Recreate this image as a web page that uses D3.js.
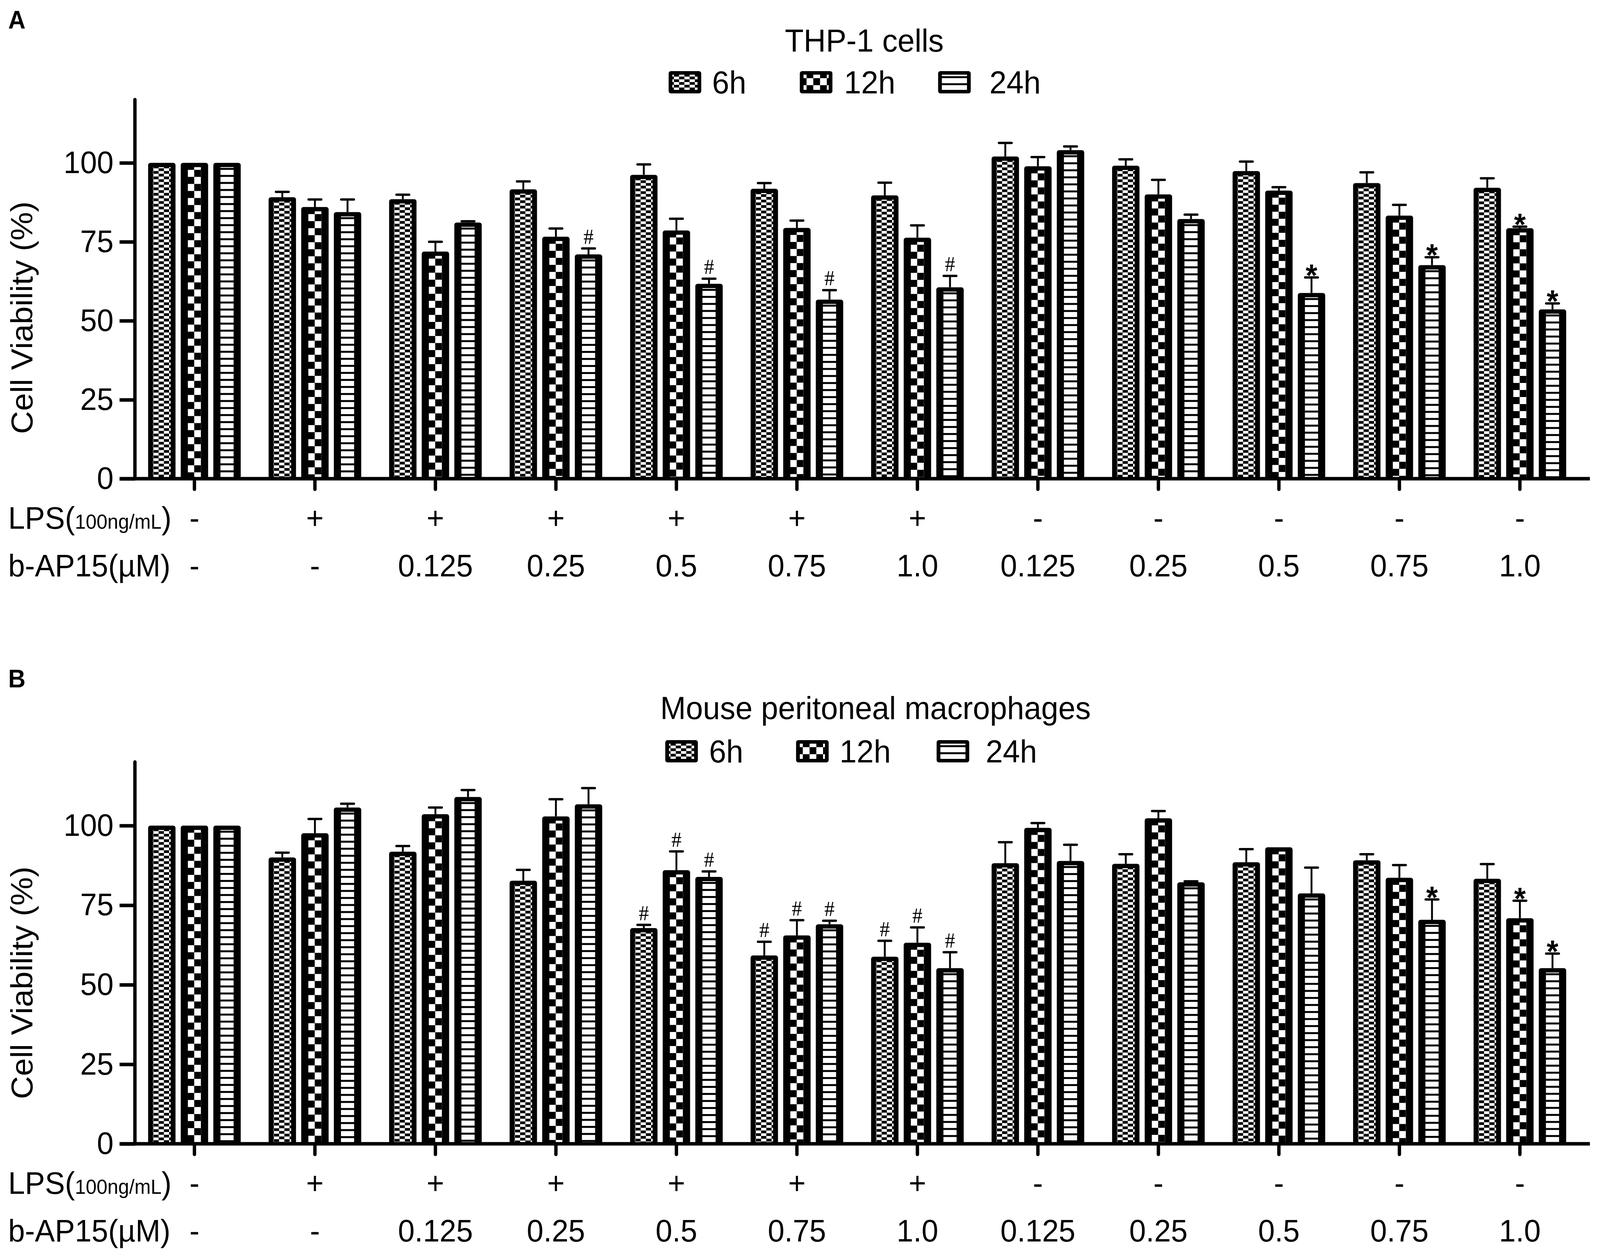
<!DOCTYPE html>
<html>
<head>
<meta charset="utf-8">
<script src="https://cdn.jsdelivr.net/npm/d3@7"></script>
<style>
  html, body { margin: 0; padding: 0; background: #fff; overflow: hidden; }
  svg { display: block; position: absolute; left: 0; top: 0; width: 100vw; height: 100vh; }
  svg text { font-family: "Liberation Sans", Arial, sans-serif; fill: #000; }
</style>
</head>
<body>
<script>
// ========== Data ==========
// Time points (series).
var seriesNames = ["6h", "12h", "24h"];
// Treatment row labels under each bar group.
var lpsLabels = ["-", "+", "+", "+", "+", "+", "+", "-", "-", "-", "-", "-"];
var apLabels = ["-", "-", "0.125", "0.25", "0.5", "0.75", "1.0", "0.125", "0.25", "0.5", "0.75", "1.0"];
var yTicks = [0, 25, 50, 75, 100];

// Panel A: THP-1 cells, mean viability (%) and upper error.
var thp6h = [100, 89.1, 88.5, 91.6, 96.2, 91.8, 89.7, 102.0, 99.1, 97.4, 93.6, 92.1];
var thp12h = [100, 86.0, 71.9, 76.6, 78.6, 79.4, 76.3, 98.9, 90.0, 91.2, 83.3, 79.3];
var thp24h = [100, 84.4, 81.1, 71.0, 61.7, 56.7, 60.6, 104.0, 82.2, 58.8, 67.6, 53.6];
var thp6hErr = [0, 1.7, 1.4, 2.5, 3.3, 1.8, 4.0, 4.3, 2.0, 3.0, 3.4, 3.0];
var thp12hErr = [0, 2.4, 3.1, 2.6, 3.7, 2.3, 3.9, 2.9, 4.6, 1.1, 3.4, 0.5];
var thp24hErr = [0, 4.0, 0.4, 1.9, 1.6, 3.0, 3.6, 1.2, 1.4, 4.9, 2.5, 1.9];
var thp6hMark = ["", "", "", "", "", "", "", "", "", "", "", ""];
var thp12hMark = ["", "", "", "", "", "", "", "", "", "", "", "*"];
var thp24hMark = ["", "", "", "#", "#", "#", "#", "", "", "*", "*", "*"];

// Panel B: mouse peritoneal macrophages.
var mpm6h = [100, 90.0, 91.8, 82.7, 67.8, 59.2, 58.8, 88.2, 88.0, 88.5, 89.1, 83.3];
var mpm12h = [100, 97.6, 103.6, 102.9, 86.0, 65.5, 63.2, 99.3, 102.3, 93.2, 83.6, 70.9];
var mpm24h = [100, 105.7, 109.0, 106.7, 83.9, 69.0, 55.2, 88.9, 82.2, 78.7, 70.4, 55.2];
var mpm6hErr = [0, 1.5, 1.8, 3.4, 1.0, 4.3, 5.0, 6.6, 3.0, 4.1, 1.9, 4.6];
var mpm12hErr = [0, 4.5, 2.1, 5.4, 5.9, 4.8, 4.8, 1.5, 2.3, 0, 4.0, 5.5];
var mpm24hErr = [0, 1.2, 2.2, 5.1, 1.7, 1.1, 5.0, 5.1, 0.3, 8.1, 6.4, 4.6];
var mpm6hMark = ["", "", "", "", "#", "#", "#", "", "", "", "", ""];
var mpm12hMark = ["", "", "", "", "#", "#", "#", "", "", "", "", "*"];
var mpm24hMark = ["", "", "", "", "#", "#", "#", "", "", "", "*", "*"];
// ==============================================

var W = 4269, H = 3209;
// Drawn in a fixed 4269x3209 coordinate system, scaled to whatever the viewport is.
var svg = d3.select("body").append("svg")
  .attr("viewBox", "0 0 " + W + " " + H)
  .attr("preserveAspectRatio", "none");
svg.append("rect").attr("width", W).attr("height", H).attr("fill", "#fff");

// Fill patterns for each time point.
var defs = svg.append("defs");
var p6 = defs.append("pattern").attr("id", "pat6h")
  .attr("patternUnits", "userSpaceOnUse").attr("width", 28).attr("height", 14);
p6.append("rect").attr("width", 28).attr("height", 14).attr("fill", "#fff");
p6.append("rect").attr("x", 0).attr("y", 0).attr("width", 14).attr("height", 7).attr("fill", "#000");
p6.append("rect").attr("x", 14).attr("y", 7).attr("width", 14).attr("height", 7).attr("fill", "#000");

var p12 = defs.append("pattern").attr("id", "pat12h")
  .attr("patternUnits", "userSpaceOnUse").attr("width", 36).attr("height", 36);
p12.append("rect").attr("width", 36).attr("height", 36).attr("fill", "#000");
p12.append("rect").attr("x", 0).attr("y", 0).attr("width", 18).attr("height", 18).attr("fill", "#fff");
p12.append("rect").attr("x", 18).attr("y", 18).attr("width", 18).attr("height", 18).attr("fill", "#fff");

var p24 = defs.append("pattern").attr("id", "pat24h")
  .attr("patternUnits", "userSpaceOnUse").attr("width", 20).attr("height", 18);
p24.append("rect").attr("width", 20).attr("height", 18).attr("fill", "#fff");
p24.append("rect").attr("x", 0).attr("y", 13).attr("width", 20).attr("height", 5).attr("fill", "#000");

// Black border thickness on the sides of each bar kind.
var insets = { "6h": 13, "12h": 19, "24h": 19 };

/* Draw one patterned bar: black rounded body with a patterned core. */
function drawBar(g, x, yTop, yBase, w, key)
{
  var h = yBase - yTop;
  var topInset = 11;
  var bar = g.append("g").attr("transform", "translate(" + x + "," + yTop + ")");
  bar.append("rect")
    .attr("width", w)
    .attr("height", h)
    .attr("rx", 6)
    .attr("fill", "#000");
  var inset = insets[key];
  bar.append("rect")
    .attr("x", inset)
    .attr("y", topInset)
    .attr("width", w - 2 * inset)
    .attr("height", Math.max(0, h - topInset))
    .attr("fill", "url(#pat" + key + ")");
}

function drawPanel(p)
{
  var g = svg.append("g");

  var y = d3.scaleLinear().domain([0, 120]).range([p.y0, p.yTop]);
  var x0 = d3.scaleBand().domain(d3.range(lpsLabels.length)).range([358, 4216]);
  var x1 = d3.scaleBand().domain(seriesNames).range([-130.5, 130.5])
    .paddingInner(0.16).paddingOuter(0.08);
  var axisX = 360;

  // Panel letter.
  g.append("text")
    .attr("x", 22).attr("y", p.letterY)
    .attr("font-size", 64).attr("font-weight", "bold")
    .text(p.letter);

  // Title.
  g.append("text")
    .attr("x", p.titleX).attr("y", p.titleY)
    .attr("text-anchor", "middle")
    .attr("font-size", 82)
    .text(p.title);

  // Legend.
  seriesNames.forEach(function(s, i) {
    var sw = g.append("g").attr("transform", "translate(" + p.legendSwatchX[i] + "," + (p.legendY - 28) + ")");
    sw.append("rect").attr("width", 87).attr("height", 57).attr("rx", 6).attr("fill", "#000");
    sw.append("rect").attr("x", 10).attr("y", 9).attr("width", 67).attr("height", 39)
      .attr("fill", "url(#pat" + s + ")");
    g.append("text")
      .attr("x", p.legendTextX[i]).attr("y", p.legendY + 29)
      .attr("font-size", 82)
      .text(s);
  });

  // Bars, error bars and significance marks.
  seriesNames.forEach(function(s, si) {
    var means = p.means[si], errs = p.errs[si], marks = p.marks[si];
    var w = x1.bandwidth();
    means.forEach(function(v, i) {
      var cx = x0(i) + x0.bandwidth() / 2 + x1(s) + w / 2;
      var yTop = y(v);
      var yErr = y(v + errs[i]);
      if (errs[i] > 0)
      {
        g.append("line")
          .attr("x1", cx).attr("x2", cx)
          .attr("y1", yTop).attr("y2", yErr)
          .attr("stroke", "#000").attr("stroke-width", 5);
        g.append("line")
          .attr("x1", cx - 17).attr("x2", cx + 17)
          .attr("y1", yErr).attr("y2", yErr)
          .attr("stroke", "#000").attr("stroke-width", 6)
          .attr("stroke-linecap", "round");
      }
      drawBar(g, cx - w / 2, yTop, y(0), w, s);

      if (marks[i] == "#")
      {
        g.append("text")
          .attr("x", cx).attr("y", yErr - 12)
          .attr("text-anchor", "middle")
          .attr("font-size", 54)
          .style("font-family", "'Liberation Serif', 'Times New Roman', serif")
          .text("#");
      }
      else if (marks[i] == "*")
      {
        g.append("text")
          .attr("x", cx).attr("y", yErr + 22)
          .attr("text-anchor", "middle")
          .attr("font-size", 80)
          .attr("font-weight", "bold")
          .text("*");
      }
    });
  });

  // Y axis.
  var yAxis = g.append("g")
    .attr("transform", "translate(" + axisX + ",0)")
    .call(d3.axisLeft(y).tickValues(yTicks).tickSize(41).tickPadding(16).tickSizeOuter(0));
  yAxis.select(".domain").remove();
  yAxis.attr("font-size", 80).attr("font-family", null);
  yAxis.selectAll(".tick line").attr("stroke", "#000").attr("stroke-width", 9);
  yAxis.selectAll(".tick text").attr("fill", "#000");
  g.append("line")
    .attr("x1", axisX).attr("x2", axisX)
    .attr("y1", y(0)).attr("y2", y(120))
    .attr("stroke", "#000").attr("stroke-width", 9)
    .attr("stroke-linecap", "round");

  // X axis with ticks under each group.
  var xAxis = g.append("g")
    .attr("transform", "translate(0," + y(0) + ")")
    .call(d3.axisBottom(x0).tickSize(27).tickSizeOuter(0).tickFormat(""));
  xAxis.select(".domain").remove();
  xAxis.selectAll(".tick line").attr("stroke", "#000").attr("stroke-width", 9)
    .attr("stroke-linecap", "round");
  g.append("line")
    .attr("x1", axisX - 41).attr("x2", 4242)
    .attr("y1", y(0)).attr("y2", y(0))
    .attr("stroke", "#000").attr("stroke-width", 9);

  // Y axis title.
  g.append("text")
    .attr("transform", "translate(86," + (p.y0 - 412) + ") rotate(-90)")
    .attr("text-anchor", "middle")
    .attr("font-size", 82)
    .text("Cell Viability (%)");

  // Treatment rows.
  var lpsRow = g.append("text")
    .attr("x", 22).attr("y", p.y0 + 128)
    .attr("font-size", 80);
  lpsRow.append("tspan").text("LPS(");
  lpsRow.append("tspan").attr("font-size", 52).text("100ng/mL");
  lpsRow.append("tspan").text(")");

  g.append("text")
    .attr("x", 22).attr("y", p.y0 + 250)
    .attr("font-size", 80)
    .text("b-AP15(\u00b5M)");

  g.selectAll(".lps")
    .data(lpsLabels)
    .enter().append("text")
    .attr("x", function(d, i) { return x0(i) + x0.bandwidth() / 2; })
    .attr("y", p.y0 + 128)
    .attr("text-anchor", "middle")
    .attr("font-size", 80)
    .text(function(d) { return d; });

  g.selectAll(".ap")
    .data(apLabels)
    .enter().append("text")
    .attr("x", function(d, i) { return x0(i) + x0.bandwidth() / 2; })
    .attr("y", p.y0 + 250)
    .attr("text-anchor", "middle")
    .attr("font-size", 80)
    .text(function(d) { return d; });
}

drawPanel({
  letter: "A", letterY: 73,
  title: "THP-1 cells", titleX: 2306, titleY: 132,
  legendY: 210,
  legendSwatchX: [1784, 2134, 2503],
  legendTextX: [1900, 2252, 2640],
  y0: 1225, yTop: 255,
  means: [thp6h, thp12h, thp24h],
  errs: [thp6hErr, thp12hErr, thp24hErr],
  marks: [thp6hMark, thp12hMark, thp24hMark]
});

drawPanel({
  letter: "B", letterY: 1759,
  title: "Mouse peritoneal macrophages", titleX: 2336, titleY: 1840,
  legendY: 1922,
  legendSwatchX: [1775, 2124, 2499],
  legendTextX: [1892, 2240, 2630],
  y0: 2927, yTop: 1950,
  means: [mpm6h, mpm12h, mpm24h],
  errs: [mpm6hErr, mpm12hErr, mpm24hErr],
  marks: [mpm6hMark, mpm12hMark, mpm24hMark]
});
</script>
</body>
</html>
